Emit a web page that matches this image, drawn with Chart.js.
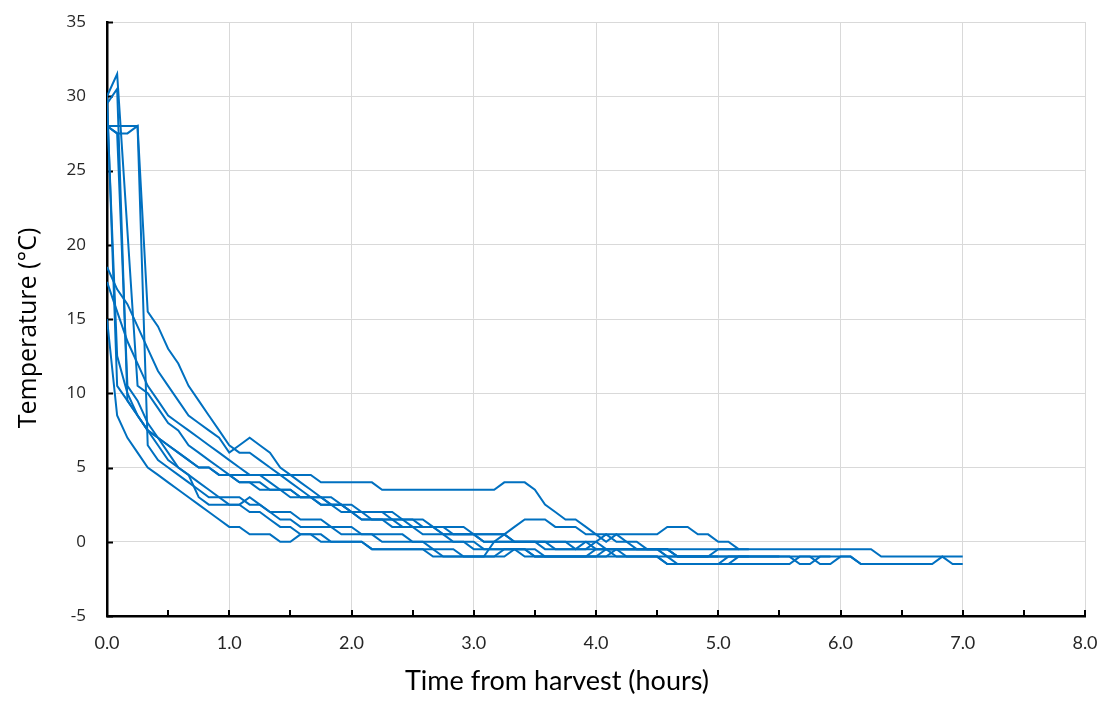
<!DOCTYPE html>
<html>
<head>
<meta charset="utf-8">
<script src="https://cdn.jsdelivr.net/npm/chart.js@4.4.1/dist/chart.umd.min.js"></script>
<style>
  html, body { margin: 0; padding: 0; background: #fff; }
  #wrap { width: 1105px; height: 702px; }
</style>
</head>
<body>
<div id="wrap"><canvas id="c" width="1105" height="702"></canvas></div>
<script>
// Time from harvest (hours), temperature (°C) readings per logger
const s1 = [[0,30],[0.083,31.5],[0.25,10.5],[0.333,10],[0.417,9],[0.5,8],[0.583,7.5],[0.667,6.5],[0.75,6],[0.833,5.5],[0.917,5],[1.0,4.5],[1.083,4],[1.25,4],[1.333,3.5],[1.5,3.5],[1.583,3],[1.75,3],[1.833,2.5],[2.0,2.5],[2.083,2],[2.333,2],[2.417,1.5],[2.583,1.5],[2.667,1],[2.917,1],[3.0,0.5],[3.25,0.5],[3.333,0],[3.917,0],[4.0,-0.5],[4.5,-0.5],[4.583,-1],[4.917,-1],[5.0,-0.5],[5.167,-0.5]];
const s2 = [[0,29.5],[0.083,30.5],[0.167,9.5],[0.25,8.5],[0.333,7.5],[0.417,7],[0.5,6.5],[0.583,6],[0.667,5.5],[0.75,5],[0.833,5],[0.917,4.5],[1.0,4.5],[1.083,4],[1.167,4],[1.25,3.5],[1.417,3.5],[1.5,3],[1.667,3],[1.75,2.5],[1.917,2.5],[2.0,2],[2.25,2],[2.333,1.5],[2.5,1.5],[2.583,1],[2.75,1],[2.833,0.5],[3.0,0.5],[3.083,0],[3.583,0],[3.667,-0.5],[6.25,-0.5],[6.333,-1],[7.0,-1]];
const s3 = [[0,28],[0.25,28],[0.333,15.5],[0.417,14.5],[0.5,13],[0.583,12],[0.667,10.5],[0.75,9.5],[0.833,8.5],[0.917,7.5],[1.0,6.5],[1.083,6],[1.167,6],[1.25,5.5],[1.333,5],[1.417,4.5],[1.5,4],[1.583,3.5],[1.667,3],[1.75,3],[1.833,2.5],[1.917,2.5],[2.0,2],[2.083,2],[2.167,1.5],[2.417,1.5],[2.5,1],[2.667,1],[2.75,0.5],[3.25,0.5],[3.333,0],[3.75,0],[3.833,-0.5],[3.917,-0.5],[4.0,0],[4.083,0.5],[4.167,0],[4.25,0],[4.333,-0.5],[4.5,-0.5],[4.583,-1],[5.0,-1]];
const s4 = [[0,28],[0.083,27.5],[0.167,27.5],[0.25,28],[0.333,6.5],[0.417,5.5],[0.5,5],[0.583,4.5],[0.667,4],[0.75,3.5],[0.833,3],[0.917,3],[1.0,2.5],[1.083,2.5],[1.167,2],[1.25,2],[1.333,1.5],[1.417,1],[1.5,1],[1.583,0.5],[1.75,0.5],[1.833,0],[2.083,0],[2.167,-0.5],[2.583,-0.5],[2.667,-1],[3.167,-1],[3.25,-0.5],[3.417,-0.5],[3.5,-1],[4.0,-1],[4.083,-0.5],[4.167,-1],[4.5,-1],[4.583,-1.5],[5.0,-1.5],[5.083,-1],[5.25,-1]];
const s5 = [[0,18.5],[0.083,17],[0.167,16],[0.25,14.5],[0.333,13],[0.417,11.5],[0.5,10.5],[0.583,9.5],[0.667,8.5],[0.75,8],[0.833,7.5],[0.917,7],[1.0,6],[1.083,6.5],[1.167,7],[1.25,6.5],[1.333,6],[1.417,5],[1.5,4.5],[1.583,4],[1.667,3.5],[1.75,3],[1.833,3],[1.917,2.5],[2.0,2],[2.083,1.5],[2.25,1.5],[2.333,1],[2.5,1],[2.583,0.5],[2.75,0.5],[2.833,0],[3.0,0],[3.083,-0.5],[3.417,-0.5],[3.5,-1],[4.5,-1],[4.583,-1.5],[5.583,-1.5],[5.667,-1],[5.75,-1],[5.833,-1.5],[5.917,-1.5],[6.0,-1],[6.083,-1],[6.167,-1.5],[6.75,-1.5],[6.833,-1],[6.917,-1.5],[7.0,-1.5]];
const s6 = [[0,17.5],[0.083,15.5],[0.167,13.5],[0.25,12],[0.333,10.5],[0.417,9.5],[0.5,8.5],[0.583,8],[0.667,7.5],[0.75,7],[0.833,6.5],[0.917,6],[1.0,5.5],[1.083,5],[1.167,4.5],[1.25,4.5],[1.333,4],[1.417,3.5],[1.5,3.5],[1.583,3],[1.667,3],[1.75,2.5],[1.833,2.5],[1.917,2],[2.0,2],[2.083,1.5],[2.333,1.5],[2.417,1],[2.667,1],[2.75,0.5],[3.0,0.5],[3.083,0],[3.5,0],[3.583,-0.5],[3.833,-0.5],[3.917,0],[4.0,0],[4.083,-0.5],[4.583,-0.5],[4.667,-1],[6.083,-1],[6.167,-1.5],[6.25,-1.5]];
const s7 = [[0,15],[0.083,8.5],[0.167,7],[0.25,6],[0.333,5],[0.417,4.5],[0.5,4],[0.583,3.5],[0.667,3],[0.75,2.5],[0.833,2],[0.917,1.5],[1.0,1],[1.083,1],[1.167,0.5],[1.333,0.5],[1.417,0],[1.5,0],[1.583,0.5],[1.667,0.5],[1.75,0],[2.083,0],[2.167,-0.5],[2.667,-0.5],[2.75,-1],[3.25,-1],[3.333,-0.5],[3.5,-0.5],[3.583,-1],[3.917,-1],[4.0,-0.5],[4.583,-0.5],[4.667,-1],[5.5,-1]];
const s8 = [[0,30],[0.083,10.5],[0.167,9.5],[0.25,8.5],[0.333,7.5],[0.417,7],[0.5,6.5],[0.583,6],[0.667,5.5],[0.75,5],[0.833,5],[0.917,4.5],[1.667,4.5],[1.75,4],[2.167,4],[2.25,3.5],[3.167,3.5],[3.25,4],[3.417,4],[3.5,3.5],[3.583,2.5],[3.667,2],[3.75,1.5],[3.833,1.5],[3.917,1],[4.0,0.5],[4.083,0],[4.167,0.5],[4.25,0],[4.333,0],[4.417,-0.5],[4.583,-0.5],[4.667,-1],[4.917,-1]];
const s9 = [[0,28],[0.083,27.5],[0.167,10.5],[0.25,9.5],[0.333,8],[0.417,7],[0.5,6],[0.583,5],[0.667,4.5],[0.75,3],[0.833,2.5],[1.083,2.5],[1.167,3],[1.25,2.5],[1.333,2],[1.417,1.5],[1.5,1.5],[1.583,1],[1.833,1],[1.917,0.5],[2.167,0.5],[2.25,0],[2.583,0],[2.667,-0.5],[2.833,-0.5],[2.917,-1],[3.083,-1],[3.167,0],[3.25,0.5],[3.333,1],[3.417,1.5],[3.583,1.5],[3.667,1],[3.833,1],[3.917,0.5],[4.5,0.5],[4.583,1],[4.75,1],[4.833,0.5],[4.917,0.5],[5.0,0],[5.083,0],[5.167,-0.5],[5.25,-0.5]];
const s10 = [[0,29.5],[0.083,12.5],[0.167,10],[0.25,8.5],[0.333,7.5],[0.417,6.5],[0.5,5.5],[0.583,5],[0.667,4.5],[0.75,4],[0.833,3.5],[0.917,3],[1.083,3],[1.167,2.5],[1.25,2.5],[1.333,2],[1.5,2],[1.583,1.5],[1.75,1.5],[1.833,1],[2.0,1],[2.083,0.5],[2.417,0.5],[2.5,0],[2.917,0],[3.0,-0.5],[3.333,-0.5],[3.417,-1],[4.083,-1],[4.167,-0.5],[4.25,-1],[4.583,-1],[4.667,-1.5],[5.083,-1.5],[5.167,-1],[5.583,-1],[5.667,-1.5],[5.75,-1.5],[5.833,-1],[5.917,-1]];
const seriesList = [s1, s2, s3, s4, s5, s6, s7, s8, s9, s10];

const xTickValues = [0,1,2,3,4,5,6,7,8];
const yTickValues = [-5,0,5,10,15,20,25,30,35];
const xTitle = 'Time from harvest (hours)';
const yTitle = 'Temperature (°C)';

const LINE = '#0070C0';

const insideTicks = {
  id: 'insideTicks',
  beforeDatasetsDraw(chart) {
    const {ctx, chartArea, scales} = chart;
    ctx.save();
    ctx.strokeStyle = '#000';
    ctx.lineWidth = 2;
    for (let v = -5; v <= 35; v += 5) {
      const y = Math.round(scales.y.getPixelForValue(v)) + 0.5;
      ctx.beginPath();
      ctx.moveTo(chartArea.left, y);
      ctx.lineTo(chartArea.left + 6, y);
      ctx.stroke();
    }
    for (let v = 0; v <= 8; v += 0.5) {
      const x = Math.round(scales.x.getPixelForValue(v));
      ctx.beginPath();
      ctx.moveTo(x, chartArea.bottom);
      ctx.lineTo(x, chartArea.bottom - 6);
      ctx.stroke();
    }
    ctx.restore();
  }
};

const axisTitles = {
  id: 'axisTitles',
  afterDraw(chart) {
    const {ctx} = chart;
    ctx.save();
    ctx.fillStyle = '#000';
    ctx.textAlign = 'center';
    ctx.textBaseline = 'middle';
    ctx.font = '27px Lato';
    ctx.fillText(xTitle, 557, 681);
    ctx.translate(29, 328);
    ctx.rotate(-Math.PI / 2);
    ctx.font = '25px "Open Sans"';
    ctx.fillText(yTitle, 0, 0);
    ctx.restore();
  }
};

const datasets = seriesList.map((s, i) => ({
  label: 'Logger ' + (i + 1),
  data: s.map(p => ({x: p[0], y: p[1]})),
  borderColor: LINE,
  backgroundColor: LINE,
  borderWidth: 2,
  pointRadius: 0,
  tension: 0,
  fill: false,
  showLine: true
}));

new Chart(document.getElementById('c'), {
  type: 'scatter',
  data: { datasets },
  options: {
    responsive: false,
    animation: false,
    devicePixelRatio: 1,
    layout: { padding: { left: 0, right: 20, top: 22, bottom: 0 } },
    plugins: { legend: { display: false }, tooltip: { enabled: false } },
    scales: {
      x: {
        type: 'linear',
        min: 0, max: 8,
        afterFit(scale) { scale.height = 86; scale.paddingLeft = 0; scale.paddingRight = 0; },
        afterBuildTicks(scale) { scale.ticks = xTickValues.map(v => ({value: v})); },
        grid: { color: '#d9d9d9', lineWidth: 1, drawTicks: false },
        border: { color: '#000', width: 2.5 },
        ticks: {
          padding: 16,
          color: '#262626',
          font: { family: 'Lato', size: 18 },
          callback: v => Number(v).toFixed(1)
        }
      },
      y: {
        type: 'linear',
        min: -5, max: 35,
        afterFit(scale) { scale.width = 107; scale.paddingTop = 0; scale.paddingBottom = 0; },
        afterBuildTicks(scale) { scale.ticks = yTickValues.map(v => ({value: v})); },
        grid: { color: '#d9d9d9', lineWidth: 1, drawTicks: false },
        border: { color: '#000', width: 2.5 },
        ticks: {
          padding: 21,
          color: '#262626',
          font: { family: 'Open Sans', size: 17 },
          callback: v => String(v)
        }
      }
    }
  },
  plugins: [insideTicks, axisTitles]
});
</script>
</body>
</html>
